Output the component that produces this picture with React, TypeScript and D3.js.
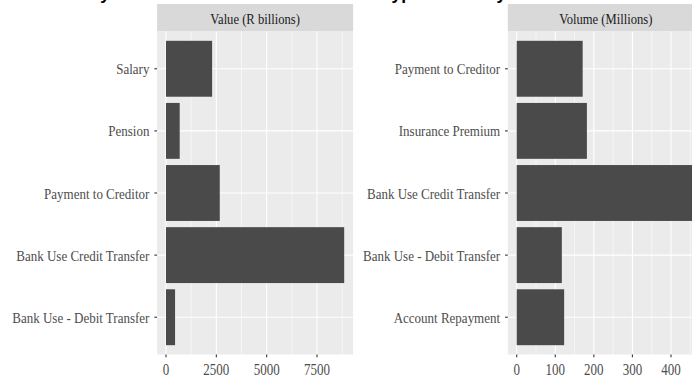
import React from "react";
import * as d3 from "d3";

// Value panel (R billions)
const valueCategories = [
  "Salary",
  "Pension",
  "Payment to Creditor",
  "Bank Use Credit Transfer",
  "Bank Use - Debit Transfer",
];
const valueAmounts = [2290, 680, 2670, 8850, 450];
const valueTicks = [0, 2500, 5000, 7500];
const valueMinorTicks = [1250, 3750, 6250, 8750];

// Volume panel (Millions)
const volumeCategories = [
  "Payment to Creditor",
  "Insurance Premium",
  "Bank Use Credit Transfer",
  "Bank Use - Debit Transfer",
  "Account Repayment",
];
const volumeAmounts = [171, 182, 462, 117, 123];
const volumeTicks = [0, 100, 200, 300, 400];
const volumeMinorTicks = [50, 150, 250, 350, 450];

const panelTitles = ["Value (R billions)", "Volume (Millions)"];
const chartTitle = "Monthly Value and Volume Breakdown \u2013 Type Summary";

const W = 692;
const H = 379;
const PANEL_W = 196;
const STRIP_TOP = 4;
const PANEL_TOP = 31.5;
const PANEL_BOTTOM = 354.5;
const SERIF = "'Liberation Serif', 'Times New Roman', serif";
const STRETCH = 1.2;

type PanelProps = {
  left: number;
  title: string;
  categories: string[];
  values: number[];
  ticks: number[];
  minorTicks: number[];
};

function Panel({ left, title, categories, values, ticks, minorTicks }: PanelProps) {
  const max = d3.max(values) as number;
  const x = d3
    .scaleLinear()
    .domain([-0.05 * max, max * 1.05])
    .range([left, left + PANEL_W]);
  const y = d3
    .scaleBand<string>()
    .domain(categories)
    .range([PANEL_TOP, PANEL_BOTTOM])
    .paddingInner(0.1)
    .paddingOuter(0.15);
  const bw = y.bandwidth();

  return (
    <g>
      {/* strip */}
      <rect x={left} y={STRIP_TOP} width={PANEL_W} height={PANEL_TOP - STRIP_TOP} fill="#d9d9d9" />
      <text
        transform={`translate(${left + PANEL_W / 2},${24}) scale(1,${STRETCH})`}
        textAnchor="middle"
        fontFamily={SERIF}
        fontSize={12.6}
        fill="#1a1a1a"
      >
        {title}
      </text>

      {/* panel background */}
      <rect x={left} y={PANEL_TOP} width={PANEL_W} height={PANEL_BOTTOM - PANEL_TOP} fill="#ebebeb" />

      {/* minor grid */}
      {minorTicks.map((t) => (
        <line key={"mn" + t} x1={x(t)} x2={x(t)} y1={PANEL_TOP} y2={PANEL_BOTTOM} stroke="#fff" strokeWidth={0.55} />
      ))}
      {/* major grid */}
      {ticks.map((t) => (
        <line key={"mj" + t} x1={x(t)} x2={x(t)} y1={PANEL_TOP} y2={PANEL_BOTTOM} stroke="#fff" strokeWidth={1.1} />
      ))}
      {categories.map((c) => {
        const cy = (y(c) as number) + bw / 2;
        return <line key={"hg" + c} x1={left} x2={left + PANEL_W} y1={cy} y2={cy} stroke="#fff" strokeWidth={1.1} />;
      })}

      {/* bars */}
      {categories.map((c, i) => (
        <rect
          key={"b" + c}
          x={x(0)}
          y={y(c) as number}
          width={x(values[i]) - x(0)}
          height={bw}
          fill="#4a4a4a"
        />
      ))}

      {/* y axis */}
      {categories.map((c) => {
        const cy = (y(c) as number) + bw / 2;
        return (
          <g key={"yl" + c}>
            <line x1={left - 2.75} x2={left} y1={cy} y2={cy} stroke="#333" strokeWidth={1.1} />
            <text
              transform={`translate(${left - 7.7},${cy + 5.5}) scale(1,${STRETCH})`}
              textAnchor="end"
              fontFamily={SERIF}
              fontSize={13}
              fill="#4d4d4d"
            >
              {c}
            </text>
          </g>
        );
      })}

      {/* x axis */}
      {ticks.map((t) => (
        <g key={"xl" + t}>
          <line x1={x(t)} x2={x(t)} y1={PANEL_BOTTOM} y2={PANEL_BOTTOM + 2.75} stroke="#333" strokeWidth={1.1} />
          <text
            transform={`translate(${x(t)},${375}) scale(1,1.35)`}
            textAnchor="middle"
            fontFamily={SERIF}
            fontSize={13}
            fill="#4d4d4d"
          >
            {t}
          </text>
        </g>
      ))}
    </g>
  );
}

export default function App() {
  return (
    <svg
      width={W}
      height={H}
      viewBox={`0 0 ${W} ${H}`}
      style={{ position: "absolute", left: 0, top: 0, background: "#fff" }}
    >
      <rect x={0} y={0} width={W} height={H} fill="#fff" />
      <text
        x={43}
        y={-1}
        fontFamily="'Liberation Sans', Arial, sans-serif"
        fontWeight="bold"
        fontSize={17.5}
        fill="#000"
      >
        {chartTitle}
      </text>
      <Panel
        left={157.1}
        title={panelTitles[0]}
        categories={valueCategories}
        values={valueAmounts}
        ticks={valueTicks}
        minorTicks={valueMinorTicks}
      />
      <Panel
        left={507.8}
        title={panelTitles[1]}
        categories={volumeCategories}
        values={volumeAmounts}
        ticks={volumeTicks}
        minorTicks={volumeMinorTicks}
      />
    </svg>
  );
}
